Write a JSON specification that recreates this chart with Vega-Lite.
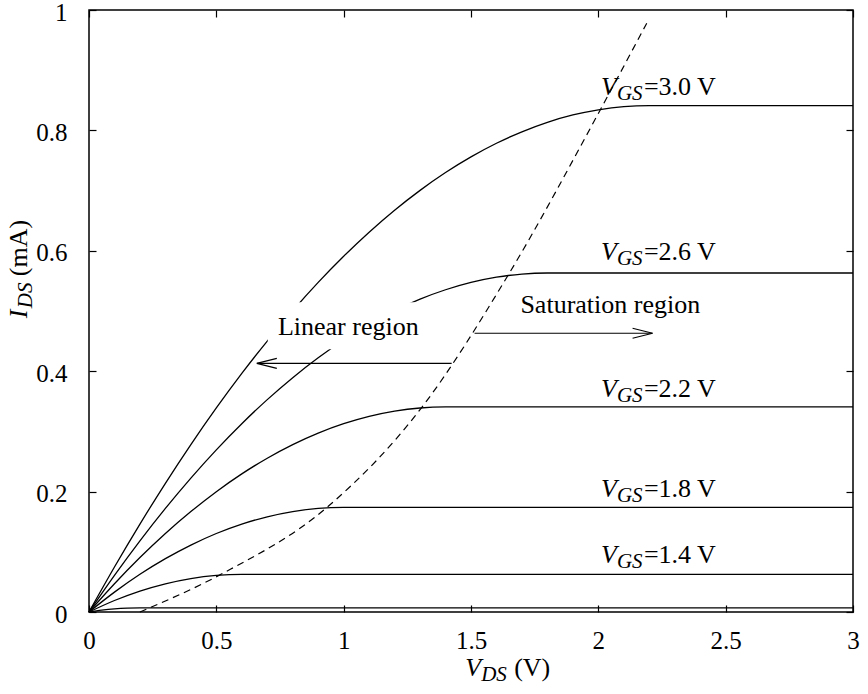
{
  "$schema": "https://vega.github.io/schema/vega-lite/v6.json",
  "width": 764,
  "height": 602,
  "autosize": "none",
  "padding": {"left": 89, "top": 10, "right": 15, "bottom": 82},
  "background": "white",
  "config": {
    "view": {"stroke": "black", "strokeWidth": 1.5},
    "font": "Liberation Serif",
    "axis": {
      "domain": false, "grid": false, "offset": -7, "zindex": 1,
      "labelFont": "Liberation Serif", "labelFontSize": 25, "labelColor": "black", "title": null,
      "labelFlush": false
    },
    "text": {"font": "Liberation Serif", "color": "black"}
  },
  "datasets": {
    "curves": [
      {"vgs": "3.0", "vds": 0, "ids": 0}, {"vgs": "3.0", "vds": 0.1, "ids": 0.0747}, {"vgs": "3.0", "vds": 0.2, "ids": 0.146}, {"vgs": "3.0", "vds": 0.3, "ids": 0.2138}, {"vgs": "3.0", "vds": 0.4, "ids": 0.2781}, {"vgs": "3.0", "vds": 0.5, "ids": 0.3389}, {"vgs": "3.0", "vds": 0.6, "ids": 0.3963}, {"vgs": "3.0", "vds": 0.7, "ids": 0.4501}, {"vgs": "3.0", "vds": 0.8, "ids": 0.5005}, {"vgs": "3.0", "vds": 0.9, "ids": 0.5475}, {"vgs": "3.0", "vds": 1.0, "ids": 0.5909}, {"vgs": "3.0", "vds": 1.1, "ids": 0.6309}, {"vgs": "3.0", "vds": 1.2, "ids": 0.6674}, {"vgs": "3.0", "vds": 1.3, "ids": 0.7004}, {"vgs": "3.0", "vds": 1.4, "ids": 0.73}, {"vgs": "3.0", "vds": 1.5, "ids": 0.756}, {"vgs": "3.0", "vds": 1.6, "ids": 0.7786}, {"vgs": "3.0", "vds": 1.7, "ids": 0.7977}, {"vgs": "3.0", "vds": 1.8, "ids": 0.8134}, {"vgs": "3.0", "vds": 1.9, "ids": 0.8256}, {"vgs": "3.0", "vds": 2.0, "ids": 0.8342}, {"vgs": "3.0", "vds": 2.1, "ids": 0.8395}, {"vgs": "3.0", "vds": 2.2, "ids": 0.8412}, {"vgs": "3.0", "vds": 3.0, "ids": 0.8412},
      {"vgs": "2.6", "vds": 0, "ids": 0}, {"vgs": "2.6", "vds": 0.1, "ids": 0.0608}, {"vgs": "2.6", "vds": 0.2, "ids": 0.1182}, {"vgs": "2.6", "vds": 0.3, "ids": 0.1721}, {"vgs": "2.6", "vds": 0.4, "ids": 0.2225}, {"vgs": "2.6", "vds": 0.5, "ids": 0.2694}, {"vgs": "2.6", "vds": 0.6, "ids": 0.3128}, {"vgs": "2.6", "vds": 0.7, "ids": 0.3528}, {"vgs": "2.6", "vds": 0.8, "ids": 0.3893}, {"vgs": "2.6", "vds": 0.9, "ids": 0.4223}, {"vgs": "2.6", "vds": 1.0, "ids": 0.4519}, {"vgs": "2.6", "vds": 1.1, "ids": 0.478}, {"vgs": "2.6", "vds": 1.2, "ids": 0.5005}, {"vgs": "2.6", "vds": 1.3, "ids": 0.5197}, {"vgs": "2.6", "vds": 1.4, "ids": 0.5353}, {"vgs": "2.6", "vds": 1.5, "ids": 0.5475}, {"vgs": "2.6", "vds": 1.6, "ids": 0.5562}, {"vgs": "2.6", "vds": 1.7, "ids": 0.5614}, {"vgs": "2.6", "vds": 1.8, "ids": 0.5631}, {"vgs": "2.6", "vds": 3.0, "ids": 0.5631},
      {"vgs": "2.2", "vds": 0, "ids": 0}, {"vgs": "2.2", "vds": 0.1, "ids": 0.0469}, {"vgs": "2.2", "vds": 0.2, "ids": 0.0904}, {"vgs": "2.2", "vds": 0.3, "ids": 0.1304}, {"vgs": "2.2", "vds": 0.4, "ids": 0.1668}, {"vgs": "2.2", "vds": 0.5, "ids": 0.1999}, {"vgs": "2.2", "vds": 0.6, "ids": 0.2294}, {"vgs": "2.2", "vds": 0.7, "ids": 0.2555}, {"vgs": "2.2", "vds": 0.8, "ids": 0.2781}, {"vgs": "2.2", "vds": 0.9, "ids": 0.2972}, {"vgs": "2.2", "vds": 1.0, "ids": 0.3128}, {"vgs": "2.2", "vds": 1.1, "ids": 0.325}, {"vgs": "2.2", "vds": 1.2, "ids": 0.3337}, {"vgs": "2.2", "vds": 1.3, "ids": 0.3389}, {"vgs": "2.2", "vds": 1.4, "ids": 0.3406}, {"vgs": "2.2", "vds": 3.0, "ids": 0.3406},
      {"vgs": "1.8", "vds": 0, "ids": 0}, {"vgs": "1.8", "vds": 0.1, "ids": 0.033}, {"vgs": "1.8", "vds": 0.2, "ids": 0.0626}, {"vgs": "1.8", "vds": 0.3, "ids": 0.0886}, {"vgs": "1.8", "vds": 0.4, "ids": 0.1112}, {"vgs": "1.8", "vds": 0.5, "ids": 0.1304}, {"vgs": "1.8", "vds": 0.6, "ids": 0.146}, {"vgs": "1.8", "vds": 0.7, "ids": 0.1582}, {"vgs": "1.8", "vds": 0.8, "ids": 0.1668}, {"vgs": "1.8", "vds": 0.9, "ids": 0.1721}, {"vgs": "1.8", "vds": 1.0, "ids": 0.1738}, {"vgs": "1.8", "vds": 3.0, "ids": 0.1738},
      {"vgs": "1.4", "vds": 0, "ids": 0}, {"vgs": "1.4", "vds": 0.1, "ids": 0.0191}, {"vgs": "1.4", "vds": 0.2, "ids": 0.0348}, {"vgs": "1.4", "vds": 0.3, "ids": 0.0469}, {"vgs": "1.4", "vds": 0.4, "ids": 0.0556}, {"vgs": "1.4", "vds": 0.5, "ids": 0.0608}, {"vgs": "1.4", "vds": 0.6, "ids": 0.0626}, {"vgs": "1.4", "vds": 3.0, "ids": 0.0626},
      {"vgs": "1.0", "vds": 0, "ids": 0}, {"vgs": "1.0", "vds": 0.05, "ids": 0.003}, {"vgs": "1.0", "vds": 0.1, "ids": 0.0052}, {"vgs": "1.0", "vds": 0.15, "ids": 0.0065}, {"vgs": "1.0", "vds": 0.2, "ids": 0.007}, {"vgs": "1.0", "vds": 3.0, "ids": 0.007}
    ],
    "boundary": [
      {"vds": 0.2, "ids": 0}, {"vds": 0.52, "ids": 0.063}, {"vds": 0.935, "ids": 0.174}, {"vds": 1.307, "ids": 0.34}, {"vds": 1.645, "ids": 0.559}, {"vds": 2.01, "ids": 0.836}, {"vds": 2.19, "ids": 0.978}
    ],
    "labels": [
      {"vgs": "3.0", "vds": 2.01, "ids": 0.858, "rest": "=3.0 V"},
      {"vgs": "2.6", "vds": 2.01, "ids": 0.585, "rest": "=2.6 V"},
      {"vgs": "2.2", "vds": 2.01, "ids": 0.357, "rest": "=2.2 V"},
      {"vgs": "1.8", "vds": 2.01, "ids": 0.191, "rest": "=1.8 V"},
      {"vgs": "1.4", "vds": 2.01, "ids": 0.0814, "rest": "=1.4 V"}
    ],
    "regions": [
      {"label": "Linear region", "vds": 1.018, "ids": 0.4596},
      {"label": "Saturation region", "vds": 2.047, "ids": 0.4967}
    ],
    "mask": [{"x0": 0.702, "x1": 1.33, "y0": 0.4364, "y1": 0.5145}],
    "arrows": [
      {"dir": "left", "from": 1.424, "to": 0.659, "ids": 0.413},
      {"dir": "right", "from": 1.514, "to": 2.213, "ids": 0.463}
    ],
    "one": [{}]
  },
  "layer": [
    {
      "data": {"name": "curves"},
      "mark": {"type": "line", "interpolate": "monotone", "color": "black", "strokeWidth": 1.3},
      "encoding": {
        "x": {"field": "vds", "type": "quantitative", "scale": {"domain": [0, 3], "nice": false, "zero": false},
              "axis": {"orient": "bottom", "values": [0, 0.5, 1, 1.5, 2, 2.5, 3], "format": "~g", "labelPadding": 16, "ticks": true, "tickSize": 7, "tickWidth": 1.2, "tickColor": "black"}},
        "y": {"field": "ids", "type": "quantitative", "scale": {"domain": [0, 1], "nice": false, "zero": false},
              "axis": {"orient": "left", "values": [0, 0.2, 0.4, 0.6, 0.8, 1], "format": "~g", "labelPadding": 22, "labelOffset": 2, "ticks": true, "tickSize": 7, "tickWidth": 1.2, "tickColor": "black"}},
        "detail": {"field": "vgs"}
      }
    },
    {
      "data": {"name": "boundary"},
      "mark": {"type": "line", "interpolate": "monotone", "color": "black", "strokeWidth": 1.2, "strokeDash": [7, 5]},
      "encoding": {
        "x": {"field": "vds", "type": "quantitative", "axis": {"orient": "top", "values": [0, 0.5, 1, 1.5, 2, 2.5, 3], "labels": false, "ticks": true, "tickSize": 7, "tickWidth": 1.2, "tickColor": "black"}},
        "y": {"field": "ids", "type": "quantitative", "axis": {"orient": "right", "values": [0, 0.2, 0.4, 0.6, 0.8, 1], "labels": false, "ticks": true, "tickSize": 7, "tickWidth": 1.2, "tickColor": "black"}}
      }
    },
    {
      "data": {"name": "mask"},
      "mark": {"type": "rect", "fill": "white"},
      "encoding": {
        "x": {"field": "x0", "type": "quantitative", "axis": null}, "x2": {"field": "x1"},
        "y": {"field": "y0", "type": "quantitative", "axis": null}, "y2": {"field": "y1"}
      }
    },
    {
      "data": {"name": "labels"},
      "mark": {"type": "text", "align": "left", "baseline": "alphabetic", "fontSize": 26, "fontStyle": "italic"},
      "encoding": {
        "x": {"field": "vds", "type": "quantitative", "axis": null},
        "y": {"field": "ids", "type": "quantitative", "axis": null},
        "text": {"value": "V"}
      }
    },
    {
      "data": {"name": "labels"},
      "mark": {"type": "text", "align": "left", "baseline": "alphabetic", "fontSize": 21, "fontStyle": "italic", "dx": 16, "dy": 5},
      "encoding": {
        "x": {"field": "vds", "type": "quantitative", "axis": null},
        "y": {"field": "ids", "type": "quantitative", "axis": null},
        "text": {"value": "GS"}
      }
    },
    {
      "data": {"name": "labels"},
      "mark": {"type": "text", "align": "left", "baseline": "alphabetic", "fontSize": 26, "dx": 43},
      "encoding": {
        "x": {"field": "vds", "type": "quantitative", "axis": null},
        "y": {"field": "ids", "type": "quantitative", "axis": null},
        "text": {"field": "rest"}
      }
    },
    {
      "data": {"name": "regions"},
      "mark": {"type": "text", "align": "center", "baseline": "alphabetic", "fontSize": 26},
      "encoding": {
        "x": {"field": "vds", "type": "quantitative", "axis": null},
        "y": {"field": "ids", "type": "quantitative", "axis": null},
        "text": {"field": "label"}
      }
    },
    {
      "data": {"name": "arrows"},
      "mark": {"type": "rule", "color": "black", "strokeWidth": 1.2},
      "encoding": {
        "x": {"field": "from", "type": "quantitative", "axis": null}, "x2": {"field": "to"},
        "y": {"field": "ids", "type": "quantitative", "axis": null}
      }
    },
    {
      "data": {"name": "arrows"},
      "transform": [{"filter": "datum.dir === 'left'"}],
      "mark": {"type": "point", "shape": "M0,0L2,-0.5M0,0L2,0.5", "size": 400, "filled": false, "stroke": "black", "strokeWidth": 1.2, "opacity": 1},
      "encoding": {
        "x": {"field": "to", "type": "quantitative", "axis": null},
        "y": {"field": "ids", "type": "quantitative", "axis": null}
      }
    },
    {
      "data": {"name": "arrows"},
      "transform": [{"filter": "datum.dir === 'right'"}],
      "mark": {"type": "point", "shape": "M0,0L-2,-0.5M0,0L-2,0.5", "size": 400, "filled": false, "stroke": "black", "strokeWidth": 1.2, "opacity": 1},
      "encoding": {
        "x": {"field": "to", "type": "quantitative", "axis": null},
        "y": {"field": "ids", "type": "quantitative", "axis": null}
      }
    },
    {
      "data": {"name": "one"},
      "mark": {"type": "text", "align": "left", "baseline": "alphabetic", "fontSize": 26, "fontStyle": "italic"},
      "encoding": {"x": {"datum": 1.477, "type": "quantitative", "axis": null}, "y": {"datum": -0.107, "type": "quantitative", "axis": null}, "text": {"value": "V"}}
    },
    {
      "data": {"name": "one"},
      "mark": {"type": "text", "align": "left", "baseline": "alphabetic", "fontSize": 21, "fontStyle": "italic", "dx": 16, "dy": 5},
      "encoding": {"x": {"datum": 1.477, "type": "quantitative", "axis": null}, "y": {"datum": -0.107, "type": "quantitative", "axis": null}, "text": {"value": "DS"}}
    },
    {
      "data": {"name": "one"},
      "mark": {"type": "text", "align": "left", "baseline": "alphabetic", "fontSize": 26, "dx": 49},
      "encoding": {"x": {"datum": 1.477, "type": "quantitative", "axis": null}, "y": {"datum": -0.107, "type": "quantitative", "axis": null}, "text": {"value": "(V)"}}
    },
    {
      "data": {"name": "one"},
      "mark": {"type": "text", "align": "left", "baseline": "alphabetic", "fontSize": 26, "fontStyle": "italic", "angle": 270},
      "encoding": {"x": {"datum": -0.244, "type": "quantitative", "axis": null}, "y": {"datum": 0.488, "type": "quantitative", "axis": null}, "text": {"value": "I"}}
    },
    {
      "data": {"name": "one"},
      "mark": {"type": "text", "align": "left", "baseline": "alphabetic", "fontSize": 21, "fontStyle": "italic", "angle": 270, "dx": 10, "dy": 5},
      "encoding": {"x": {"datum": -0.244, "type": "quantitative", "axis": null}, "y": {"datum": 0.488, "type": "quantitative", "axis": null}, "text": {"value": "DS"}}
    },
    {
      "data": {"name": "one"},
      "mark": {"type": "text", "align": "left", "baseline": "alphabetic", "fontSize": 26, "angle": 270, "dx": 42},
      "encoding": {"x": {"datum": -0.244, "type": "quantitative", "axis": null}, "y": {"datum": 0.488, "type": "quantitative", "axis": null}, "text": {"value": "(mA)"}}
    }
  ],
  "resolve": {"scale": {"x": "shared", "y": "shared"}, "axis": {"x": "independent", "y": "independent"}}
}
